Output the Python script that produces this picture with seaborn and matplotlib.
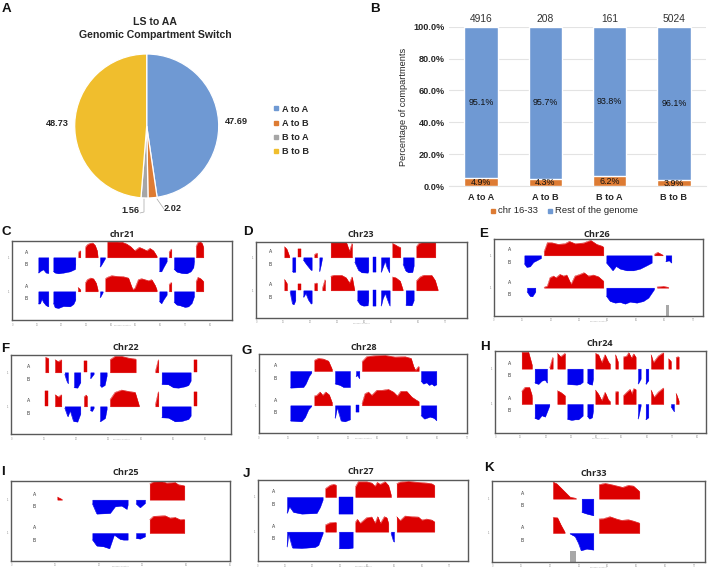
import matplotlib
matplotlib.use("Agg")
import matplotlib.pyplot as plt
from matplotlib.lines import Line2D
import numpy as np
import pandas as pd
import seaborn as sns

W, H = 708, 571

# ---------- panel A ----------
PIE_LABELS = ["A to A", "A to B", "B to A", "B to B"]
PIE_VALUES = [47.69, 2.02, 1.56, 48.73]
PIE_COLORS = ["#6F99D3", "#DD7B33", "#A6A6A6", "#F0BE2D"]

# ---------- panel B ----------
BAR_CATS = ["A to A", "A to B", "B to A", "B to B"]
BAR_COUNTS = ["4916", "208", "161", "5024"]
BAR_CHR = [4.9, 4.3, 6.2, 3.9]
BAR_REST = [95.1, 95.7, 93.8, 96.1]

# ---------- compartment tracks: (position, eigenvalue-like height) ----------
C_T1 = [
    [(235,15),(241,20)],
    [(256,30),(262,38),(270,42),(278,43),(285,36),(291,20),(293,2)],
    [(322,47),(335,47),(350,47),(365,46),(380,40),(392,32),(404,20),(418,30),(430,25),(440,20),(450,27),(460,20),(470,4)],
    [(507,15),(514,25)],
    [(588,32),(594,45),(600,47),(606,42),(610,30)],
    [(115,-46),(122,-40),(130,-36),(138,-46),(145,-47)],
    [(160,-42),(165,-46),(175,-48),(190,-46),(210,-42),(225,-35),(226,-20)],
    [(300,-28),(304,-22),(315,-3)],
    [(478,-42),(484,-42),(490,-30),(500,-12)],
    [(522,-35),(530,-43),(545,-47),(560,-48),(572,-42),(580,-30),(582,-12)],
]
C_T2 = [
    [(234,12),(241,5)],
    [(256,25),(262,35),(272,40),(280,38),(288,25),(293,5)],
    [(316,38),(322,42),(335,47),(350,45),(370,44),(385,40),(393,18),(398,5),(405,10),(415,35),(425,38),(435,35),(445,32),(455,35),(465,18),(470,5)],
    [(507,20),(514,27)],
    [(588,28),(594,42),(602,38),(610,30)],
    [(115,-37),(120,-36),(125,-22),(130,-32),(138,-42),(145,-45)],
    [(160,-35),(165,-48),(175,-50),(190,-44),(210,-45),(220,-38),(226,-25)],
    [(300,-18),(308,-3)],
    [(478,-30),(484,-36),(490,-25),(500,-10)],
    [(522,-32),(530,-40),(540,-42),(555,-47),(565,-45),(575,-35),(582,-15)],
]
D_T1 = [
    [(148,32),(155,25),(163,3)],
    [(189,25),(197,25)],
    [(238,8),(246,13)],
    [(287,45),(300,47),(320,47),(333,47),(343,18),(351,42)],
    [(472,42),(480,38),(490,32),(496,30)],
    [(544,32),(552,42),(565,47),(590,47),(601,45)],
    [(172,-42),(174,-44),(181,-43)],
    [(205,-8),(215,-22),(228,-38),(230,-38)],
    [(253,-42),(258,-20),(261,-3)],
    [(359,-14),(370,-38),(380,-45),(398,-46),(400,-40)],
    [(415,-45),(423,-45)],
    [(438,-44),(443,-30),(450,-10),(455,-28),(463,-45)],
    [(504,-20),(512,-40),(520,-45),(532,-44),(536,-25)],
]
D_T2 = [
    [(148,33),(156,20)],
    [(189,18),(197,18)],
    [(238,20),(246,22)],
    [(262,5),(270,32)],
    [(287,42),(295,45),(320,45),(333,38),(343,22),(351,40),(358,2)],
    [(472,40),(482,38),(495,28),(503,3)],
    [(544,28),(555,40),(565,45),(590,45),(600,30),(608,3)],
    [(165,-5),(172,-40),(176,-42),(181,-30)],
    [(205,-20),(212,-8),(220,-28),(228,-40),(230,-38)],
    [(367,-30),(375,-42),(385,-46),(398,-45),(400,-30)],
    [(415,-46),(423,-46)],
    [(438,-46),(443,-25),(450,-8),(458,-30),(464,-46)],
    [(512,-44),(530,-45),(536,-30)],
]
E_T1 = [
    [(222,10),(232,38),(245,38),(265,33),(285,35),(298,42),(315,35),(340,37),(362,45),(380,33),(395,28),(400,25)],
    [(553,3),(563,9),(578,1)],
    [(163,-25),(170,-35),(180,-33),(190,-20),(200,-15),(213,-8)],
    [(409,-22),(420,-35),(428,-45),(438,-32),(450,-40),(470,-45),(490,-45),(510,-40),(530,-30),(545,-22)],
    [(587,-18),(597,-15),(604,-22)],
]
E_T2 = [
    [(222,1),(232,5),(240,30),(250,35),(258,30),(270,40),(280,35),(290,38),(303,10),(315,35),(330,40),(342,45),(355,35),(370,38),(385,33),(400,20)],
    [(561,2),(580,4),(595,1)],
    [(171,-12),(180,-25),(187,-26),(196,-12)],
    [(409,-25),(420,-40),(435,-45),(450,-43),(465,-48),(480,-42),(500,-45),(520,-40),(535,-30),(552,-5)],
]
F_T1 = [
    [(136,45),(145,42)],
    [(165,38),(175,32),(184,38)],
    [(252,33),(261,33)],
    [(330,38),(345,48),(365,48),(385,43),(405,40),(407,40)],
    [(466,2),(475,38)],
    [(582,38),(591,38)],
    [(194,-6),(200,-25),(204,-33)],
    [(222,-45),(232,-46),(241,-30)],
    [(271,-18),(281,-5)],
    [(300,-38),(304,-44),(314,-38),(320,-10)],
    [(485,-35),(505,-36),(520,-45),(535,-46),(555,-42),(565,-38),(572,-25)],
]
F_T2 = [
    [(136,46),(145,46)],
    [(165,35),(175,28),(184,35)],
    [(252,28),(258,34),(261,30)],
    [(330,20),(345,42),(365,49),(385,45),(405,42),(417,2)],
    [(466,4),(475,44)],
    [(582,42),(591,42)],
    [(194,-5),(203,-30),(210,-12),(220,-44),(232,-46),(241,-22)],
    [(271,-12),(276,-14),(281,-5)],
    [(300,-45),(305,-42),(315,-35),(320,-8)],
    [(485,-33),(505,-34),(525,-45),(545,-44),(565,-38),(572,-28)],
]
G_T1 = [
    [(238,32),(250,38),(265,36),(280,30),(291,5)],
    [(381,28),(395,43),(420,46),(450,47),(480,42),(510,43),(528,38),(535,15),(541,2),(551,14)],
    [(166,-50),(205,-48),(212,-38),(222,-15),(229,-5)],
    [(300,-38),(315,-42),(325,-48),(345,-48)],
    [(363,-16),(367,-12),(373,-22)],
    [(558,-30),(565,-38),(575,-34),(582,-42),(590,-38),(597,-44),(604,-40)],
]
G_T2 = [
    [(238,28),(245,30),(255,40),(263,30),(272,40),(282,32),(291,8)],
    [(381,5),(390,35),(400,40),(410,30),(425,45),(440,45),(460,48),(475,40),(487,28),(497,42),(515,42),(530,25),(545,15),(551,12)],
    [(166,-46),(200,-48),(210,-35),(220,-12),(229,-2)],
    [(300,-38),(306,-5),(318,-46),(330,-48),(345,-42)],
    [(363,-20),(373,-20)],
    [(558,-30),(568,-40),(585,-34),(597,-38),(604,-45)],
]
H_T1 = [
    [(155,50),(175,50),(182,25),(186,10)],
    [(239,2),(248,34)],
    [(262,46),(272,36),(285,46)],
    [(376,46),(385,42),(395,18),(405,42),(415,20),(420,14)],
    [(436,42),(444,20)],
    [(460,35),(470,38),(476,48),(484,32),(491,44),(497,35)],
    [(543,42),(550,18),(565,38),(580,48)],
    [(595,30),(603,22)],
    [(618,34),(626,36)],
    [(194,-42),(205,-46),(215,-36),(225,-33),(231,-42)],
    [(292,-46),(320,-48),(330,-46),(338,-40)],
    [(352,-42),(358,-46),(366,-48),(369,-30)],
    [(504,-45),(512,-30)],
    [(527,-46),(535,-35)],
]
H_T2 = [
    [(155,38),(165,50),(178,50),(185,28),(186,15)],
    [(262,40),(272,35),(285,25)],
    [(376,42),(385,30),(395,10),(405,35),(415,12),(420,8)],
    [(436,36),(444,38)],
    [(460,25),(470,35),(480,44),(485,30),(491,46),(497,44)],
    [(543,42),(552,20),(565,36),(580,48)],
    [(618,32),(626,10)],
    [(194,-42),(205,-46),(215,-34),(225,-38),(238,-5)],
    [(292,-45),(305,-48),(315,-46),(325,-46),(338,-35)],
    [(352,-36),(358,-44),(366,-40),(369,-20)],
    [(504,-44),(512,-5)],
    [(527,-46),(535,-40)],
    [(603,-8),(612,-22)],
]
I_T1 = [
    [(172,8),(186,1)],
    [(449,47),(460,54),(485,55),(500,50),(525,52),(535,45),(553,42)],
    [(277,-12),(290,-42),(330,-40),(345,-20),(365,-18),(380,-28),(383,-15)],
    [(408,-12),(420,-23),(435,-10)],
]
I_T2 = [
    [(449,40),(460,50),(495,52),(510,45),(525,47),(540,40),(553,41)],
    [(277,-20),(290,-38),(310,-40),(328,-46),(342,-5),(360,-18),(370,-20),(383,-20)],
    [(408,-15),(420,-17),(435,-10)],
]
J_T1 = [
    [(271,25),(285,35),(295,38),(303,36)],
    [(361,30),(370,46),(395,46),(410,42),(420,32),(427,44),(435,38),(450,46),(460,35),(468,5)],
    [(485,40),(495,45),(520,47),(550,44),(575,42),(590,40),(598,35)],
    [(156,-48),(163,-28),(175,-45),(200,-50),(245,-48),(255,-30),(263,-8)],
    [(312,-50),(353,-50)],
]
J_T2 = [
    [(271,20),(285,27),(303,28)],
    [(361,28),(367,37),(375,25),(395,42),(410,44),(420,25),(428,45),(436,25),(448,45),(455,42),(460,25)],
    [(485,45),(495,33),(510,47),(530,45),(550,44),(560,35),(575,38),(590,35),(598,30)],
    [(156,-45),(160,-5),(172,-48),(200,-49),(240,-46),(250,-40),(263,-5)],
    [(312,-50),(340,-50),(353,-48)],
    [(468,-5),(475,-28),(477,-30)],
]
K_T1 = [
    [(249,50),(260,45),(275,30),(290,15),(300,5),(318,1)],
    [(387,42),(405,46),(425,42),(458,34),(475,40),(490,38),(508,22)],
    [(335,-40),(350,-45),(370,-50)],
]
K_T2 = [
    [(249,47),(262,46),(272,25),(284,3)],
    [(387,42),(400,43),(420,49),(440,42),(455,38),(475,40),(490,36),(508,30)],
    [(300,-2),(315,-10),(325,-30),(333,-52),(350,-47),(370,-50)],
]
E_GRAY = [(587, 596, 32)]
K_GRAY = [(300, 318, 32)]

PANELS = [
    ("chr21", (0,220),   (37,62,695,300),  (112,214), (37,74.1),  79, (368,43), C_T1, C_T2, []),
    ("Chr23", (235,220), (63,65,695,293),  (112,211), (65,81),   106, (376,43), D_T1, D_T2, []),
    ("Chr26", (470,220), (72,58,700,287),  (106,203), (72,85.3), 118, (381,43), E_T1, E_T2, E_GRAY),
    ("Chr22", (0,335),   (33,60,693,298),  (112,214), (36,96.8),  85, (376,36), F_T1, F_T2, []),
    ("Chr28", (235,335), (72,58,696,295),  (108,211), (72,89.1), 121, (385,36), G_T1, G_T2, []),
    ("Chr24", (470,335), (76,48,708,293),  (101,207), (76,75.8), 118, (389,26), H_T1, H_T2, []),
    ("Chr25", (0,450),   (33,92,691,332),  (149,249), (35,131),  103, (377,68), I_T1, I_T2, []),
    ("Chr27", (235,450), (68,90,700,333),  (141,245), (68,82.3), 115, (376,66), J_T1, J_T2, []),
    ("Chr33", (470,450), (66,94,706,335),  (146,249), (68,86.2), 157, (371,70), K_T1, K_T2, K_GRAY),
]
LETTERS = [("A",2,12.5),("B",370,12.5),("C",1,235),("D",243,235),("E",479,237),
           ("F",1.5,352),("G",241,354),("H",480,350),("I",1.5,475),("J",243,477),("K",484,471)]

sns.set_theme(style="white")
plt.rcParams["font.family"] = ["Liberation Sans", "DejaVu Sans"]
INK = "#262626"
RED, BLUE, GRAY = "#DC0000", "#0000EE", "#A8A8A8"

fig = plt.figure(figsize=(W/100, H/100), dpi=100, facecolor="white")

def fx(x): return x / W
def fy(y): return 1 - y / H
def place(l, t, r, b, **kw):
    return fig.add_axes([fx(l), fy(b), (r-l)/W, (b-t)/H], **kw)
def ftext(x, y, s, **kw):
    kw.setdefault("color", INK)
    kw.setdefault("ha", "center")
    kw.setdefault("va", "center")
    fig.text(fx(x), fy(y), s, **kw)

# A: pie
axp = place(146.7-72, 126-72, 146.7+72, 126+72)
wedges, _ = axp.pie(PIE_VALUES, colors=PIE_COLORS, startangle=90, counterclock=False,
                    radius=1.0, wedgeprops=dict(edgecolor="white", linewidth=0.9))
axp.set_xlim(-1, 1); axp.set_ylim(-1, 1)
ftext(155, 22, "LS to AA", fontsize=7.6, fontweight="bold")
ftext(155, 35, "Genomic Compartment Switch", fontsize=7.6, fontweight="bold")
for x, y, s in [(236,121,"47.69"),(57,124,"48.73"),(130,211,"1.56"),(173,208.5,"2.02")]:
    ftext(x, y, s, fontsize=6.6, fontweight="bold")
for xs, ys in [((144,144,140),(199,212,213)), ((157,164),(199,209))]:
    fig.add_artist(Line2D([fx(v) for v in xs], [fy(v) for v in ys], color="#A6A6A6", lw=0.5))
handles = [Line2D([], [], marker="s", ls="", color=c, ms=3) for c in PIE_COLORS]
fig.legend(handles, PIE_LABELS, loc="center left", bbox_to_anchor=(fx(267), fy(130.5)),
           frameon=False, labelspacing=0.58, handletextpad=0.1,
           handlelength=1.0, borderpad=0, prop=dict(weight="bold", size=6.6))

# B: stacked bars
axb = place(448.8, 26.7, 706.1, 186)
df = pd.DataFrame({"cat": BAR_CATS, "chr": BAR_CHR, "rest": BAR_REST})
df["total"] = df["chr"] + df["rest"]
sns.barplot(data=df, x="cat", y="total", color=PIE_COLORS[0], saturation=1, width=0.52,
            ax=axb, zorder=2)
sns.barplot(data=df, x="cat", y="chr", color=PIE_COLORS[1], saturation=1, width=0.52,
            ax=axb, zorder=3)
axb.set_ylim(0, 100)
axb.set_yticks(np.arange(0, 101, 20))
axb.set_yticklabels([f"{v:.1f}%" for v in np.arange(0, 101, 20)], fontsize=6.6,
                    fontweight="bold", color=INK)
axb.set_xticks(range(4))
axb.set_xticklabels(BAR_CATS, fontsize=6.6, fontweight="bold", color=INK)
axb.tick_params(axis="both", length=0, pad=3)
axb.tick_params(axis="x", pad=5)
axb.set_xlabel(""); axb.set_ylabel("")
axb.grid(axis="y", color="#E3E3E3", lw=0.8, zorder=0)
axb.set_axisbelow(True)
for s in axb.spines.values():
    s.set_visible(False)
axb.spines["bottom"].set_visible(True)
axb.spines["bottom"].set_color("#E3E3E3")
axb.spines["bottom"].set_linewidth(0.8)
for i, (c, r, n) in enumerate(zip(BAR_CHR, BAR_REST, BAR_COUNTS)):
    axb.text(i, c/2 - 0.2, f"{c:.1f}%", ha="center", va="center", fontsize=6.4, color="#111111", zorder=5)
    axb.text(i, c + r/2, f"{r:.1f}%", ha="center", va="center", fontsize=6.4, color="#111111", zorder=5)
    axb.text(i, 101.5, n, ha="center", va="bottom", fontsize=7.4, color="#333333", clip_on=False)
ftext(404, 107, "Percentage of compartments", fontsize=6.6, rotation=90)
for x0, tx, c, s in [(493, 498, PIE_COLORS[1], "chr 16-33"), (550, 555, PIE_COLORS[0], "Rest of the genome")]:
    fig.add_artist(Line2D([fx(x0)], [fy(211)], marker="s", color=c, ms=3, ls=""))
    ftext(tx, 211, s, fontsize=6.8, ha="left")

# C-K: compartment tracks
for name, (ox, oy), (l, t, r, b), (b1, b2), (t0, dt), acol, (tx, ty), tr1, tr2, gray in PANELS:
    ax = place(ox + l/3, oy + t/3, ox + r/3, oy + b/3)
    ax.set_xlim(l, r); ax.set_ylim(b, t)
    for base, track in ((b1, tr1), (b2, tr2)):
        for blob in track:
            xs = [p[0] for p in blob]
            hs = [p[1] for p in blob]
            col = RED if hs[0] > 0 else BLUE
            ax.fill_between(xs, base, [base - v for v in hs], color=col, lw=0.3)
            sns.lineplot(x=xs, y=[base - v for v in hs], color=col, lw=0.3, sort=False,
                         estimator=None, errorbar=None, ax=ax)
    for x0, x1, h in gray:
        ax.fill_between([x0, x1], b, b - h, color=GRAY, lw=0)
    for s in ax.spines.values():
        s.set_color("#595959"); s.set_linewidth(1.0)
    ax.set_xticks(np.arange(t0, r + 1, dt))
    ax.set_xticklabels([str(i*10) for i in range(len(ax.get_xticks()))], fontsize=1.8, color="#999999")
    ax.set_yticks([b1, b2])
    ax.set_yticklabels(["1", "1"], fontsize=1.8, color="#777777")
    ax.tick_params(axis="both", length=0.8, width=0.2, color="#BBBBBB", pad=1.2)
    ax.set_xlabel("")
    ax.set_ylabel("")
    for base in (b1, b2):
        ax.text(acol, base - 16, "A", fontsize=3.4, ha="center", va="center", color="#333333")
        ax.text(acol, base + 21, "B", fontsize=3.4, ha="center", va="center", color="#333333")
    ftext(ox + tx/3, oy + ty/3, name, fontsize=6.6, fontweight="bold",
          family=["Open Sans", "DejaVu Sans"])
    ftext(ox + (l + r)/6, oy + b/3 + 5.5, "genomic position", fontsize=1.6, color="#AAAAAA")

for s, x, y in LETTERS:
    ftext(x, y, s, fontsize=9.6, fontweight="bold", ha="left", va="baseline", color="#111111")

fig.savefig("out.png", dpi=100, facecolor="white")
